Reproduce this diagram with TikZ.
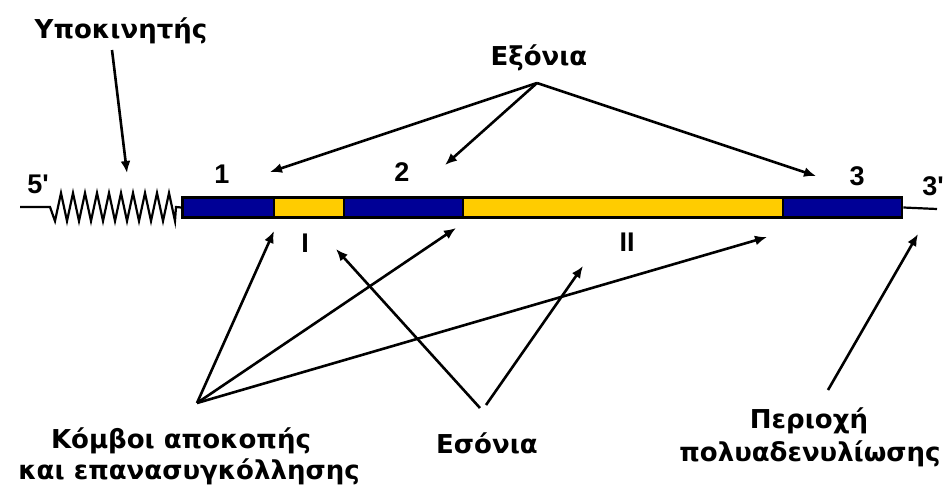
\documentclass[tikz,border=0pt]{standalone}
\usepackage{fontspec}
\setmainfont{DejaVu Sans}
\newfontfamily\numfont{Liberation Sans}
\usetikzlibrary{arrows.meta}
\definecolor{exonblue}{RGB}{0,0,150}
\definecolor{intronyellow}{RGB}{255,204,0}
\begin{document}
\begin{tikzpicture}[x=1pt,y=-1pt,
  lbl/.style={font=\fontsize{26}{30}\selectfont\bfseries, inner sep=0pt, anchor=base},
  num/.style={font=\numfont\fontsize{27}{30}\selectfont\bfseries, inner sep=0pt, anchor=base},
  ptr/.style={line width=2.6pt, -{Latex[length=12pt,width=10pt]}},
  seg/.style={draw, line width=2.8pt, minimum height=20pt, inner sep=0pt},
  exon/.style={seg, fill=exonblue},
  intron/.style={seg, fill=intronyellow},
  strand/.style={line width=2.2pt, line join=miter}]
\useasboundingbox (0,0) rectangle (949,491);

% gene body: exons and introns
\node[exon,   minimum width=92pt]  (e1) at (228.5,207.5) {};
\node[intron, minimum width=70pt]  (i1) at (309,207.5) {};
\node[exon,   minimum width=119pt] (e2) at (403.5,207.5) {};
\node[intron, minimum width=320pt] (i2) at (623,207.5) {};
\node[exon,   minimum width=119pt] (e3) at (842.5,207.5) {};

% 5' tail with promoter zigzag, and 3' tail
\coordinate (s5) at (20,207);
\coordinate (z0) at (50,207);
\coordinate (z1) at (176,207);
\coordinate (s3) at (937,209);
\draw[strand] (s5) -- (z0) -- (55,221)
  \foreach \k in {0,...,9} { -- ({61+12*\k},193) -- ({67+12*\k},221) }
  -- (z1) -- (e1.west);
\draw[strand] (e3.east) -- (s3);

% end and exon/intron labels
\node[num] (p5) at (38,193) {5'};
\node[num] (p3) at (933,195) {3'};
\node[num] (n1) at (222,183) {1};
\node[num] (n2) at (402,181) {2};
\node[num] (n3) at (857,185) {3};
\node[num] (r1) at (305,252) {I};
\node[num] (r2) at (627,251) {II};

% promoter
\node[lbl] (prom) at (121,38) {Υποκινητής};
\coordinate (promA) at (112,50);
\coordinate (promT) at (127,173);
\draw[ptr] (promA) -- (promT);

% exons
\node[lbl] (exo) at (539,65) {Εξόνια};
\coordinate (exoA) at (537,83);
\coordinate (x1) at (270,172);
\coordinate (x2) at (445,165);
\coordinate (x3) at (816,176);
\draw[ptr] (exoA) -- (x1);
\draw[ptr] (exoA) -- (x2);
\draw[ptr] (exoA) -- (x3);

% splice junctions
\node[lbl] (spl1) at (181,448) {Κόμβοι αποκοπής};
\node[lbl] (spl2) at (189,479) {και επανασυγκόλλησης};
\coordinate (splA) at (197,403);
\coordinate (j1) at (274,231);
\coordinate (j2) at (456,228);
\coordinate (j3) at (767,237);
\draw[ptr] (splA) -- (j1);
\draw[ptr] (splA) -- (j2);
\draw[ptr] (splA) -- (j3);

% introns
\node[lbl] (eso) at (487,453) {Εσόνια};
\coordinate (esoL) at (480,408);
\coordinate (esoR) at (486,405);
\coordinate (t1) at (336,249);
\coordinate (t2) at (583,266);
\draw[ptr] (esoL) -- (t1);
\draw[ptr] (esoR) -- (t2);

% polyadenylation region
\node[lbl] (pa1) at (809,428) {Περιοχή};
\node[lbl] (pa2) at (810,461) {πολυαδενυλίωσης};
\coordinate (paA) at (828,390);
\coordinate (paT) at (918,234);
\draw[ptr] (paA) -- (paT);
\end{tikzpicture}
\end{document}
